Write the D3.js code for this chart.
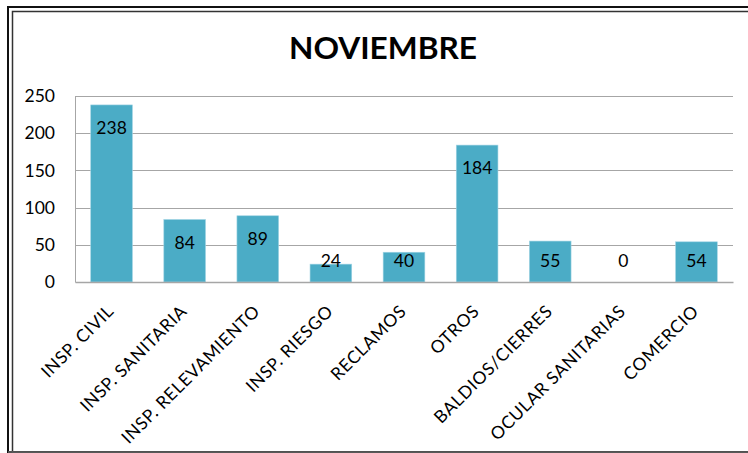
<!DOCTYPE html>
<html>
<head>
<meta charset="utf-8">
<script src="https://cdn.jsdelivr.net/npm/d3@7"></script>
<style>
  body { margin: 0; background: #fff; }
  text { font-family: Lato, "Open Sans", sans-serif; fill: #000; }
</style>
</head>
<body>
<div id="chart"></div>
<script>
// datos del grafico
var categorias = ["INSP. CIVIL", "INSP. SANITARIA", "INSP. RELEVAMIENTO", "INSP. RIESGO",
                  "RECLAMOS", "OTROS", "BALDIOS/CIERRES", "OCULAR SANITARIAS", "COMERCIO"];
var valores = [238, 84, 89, 24, 40, 184, 55, 0, 54];
var ticksY = [0, 50, 100, 150, 200, 250];
var titulo = "NOVIEMBRE";

var W = 748, H = 453;
var pIzq = 75, pDer = 733, pArr = 96, pAba = 282;

var svg = d3.select("#chart")
    .append("svg")
    .attr("width", W)
    .attr("height", H);

// marco doble
svg.append("rect")
    .attr("x", 8).attr("y", 7)
    .attr("width", 800).attr("height", 445)
    .attr("fill", "none")
    .attr("stroke", "#111")
    .attr("stroke-width", 2);
svg.append("rect")
    .attr("x", 12.5).attr("y", 11.5)
    .attr("width", 800).attr("height", 441)
    .attr("fill", "none")
    .attr("stroke", "#333")
    .attr("stroke-width", 1.5);
svg.append("line")
    .attr("x1", 8).attr("x2", W)
    .attr("y1", 452).attr("y2", 452)
    .attr("stroke", "#666")
    .attr("stroke-width", 1.5);

var x = d3.scaleBand()
    .domain(categorias)
    .range([pIzq, pDer])
    .paddingInner(0.43)
    .paddingOuter(0.215);

var y = d3.scaleLinear()
    .domain([0, 250])
    .range([pAba, pArr]);

// titulo
svg.append("text")
    .attr("x", 383)
    .attr("y", 59)
    .attr("text-anchor", "middle")
    .attr("font-size", 30)
    .attr("font-weight", "bold")
    .attr("textLength", 188)
    .attr("lengthAdjust", "spacingAndGlyphs")
    .text(titulo);

// grilla
svg.selectAll(".grid")
    .data(ticksY.slice(1))
    .enter()
    .append("line")
    .attr("x1", pIzq).attr("x2", pDer)
    .attr("y1", function(d){ return Math.round(y(d)) + 0.5; })
    .attr("y2", function(d){ return Math.round(y(d)) + 0.5; })
    .attr("stroke", "#a6a6a6")
    .attr("stroke-width", 1);

// eje y
var ejeY = svg.append("g")
    .attr("transform", "translate(" + pIzq + ",0)")
    .call(d3.axisLeft(y).tickValues(ticksY).tickSize(0).tickPadding(20));
ejeY.select(".domain").attr("stroke", "#a6a6a6");
ejeY.selectAll("text")
    .attr("font-size", 17.5)
    .style("font-family", "Lato, sans-serif")
    .attr("fill", "#000");

// barras
svg.selectAll(".bar")
    .data(valores)
    .enter()
    .append("rect")
    .attr("x", function(d, i){ return x(categorias[i]); })
    .attr("y", function(d){ return y(d); })
    .attr("width", x.bandwidth())
    .attr("height", function(d){ return y(0) - y(d); })
    .attr("fill", "#4bacc6")
    .attr("stroke", "#9fd3e3")
    .attr("stroke-width", 0.6);

// eje x
var ejeX = svg.append("g")
    .attr("transform", "translate(0," + pAba + ")")
    .call(d3.axisBottom(x).tickSize(0).tickPadding(0));
ejeX.select(".domain").attr("stroke", "#a6a6a6").attr("stroke-width", 1.5);
ejeX.selectAll("text")
    .attr("font-size", 17.5)
    .attr("letter-spacing", 0.6)
    .style("font-family", "Lato, sans-serif")
    .attr("fill", "#000")
    .attr("text-anchor", "end")
    .attr("dy", "0.35em")
    .attr("transform", "translate(-1,26) rotate(-45)");

// etiquetas de valores
svg.selectAll(".lbl")
    .data(valores)
    .enter()
    .append("text")
    .attr("x", function(d, i){ return x(categorias[i]) + x.bandwidth() / 2; })
    .attr("y", function(d){ return Math.min(y(d) + 23, 261); })
    .attr("dy", "0.35em")
    .attr("text-anchor", "middle")
    .attr("font-size", 17.5)
    .text(function(d){ return d; });
</script>
</body>
</html>
